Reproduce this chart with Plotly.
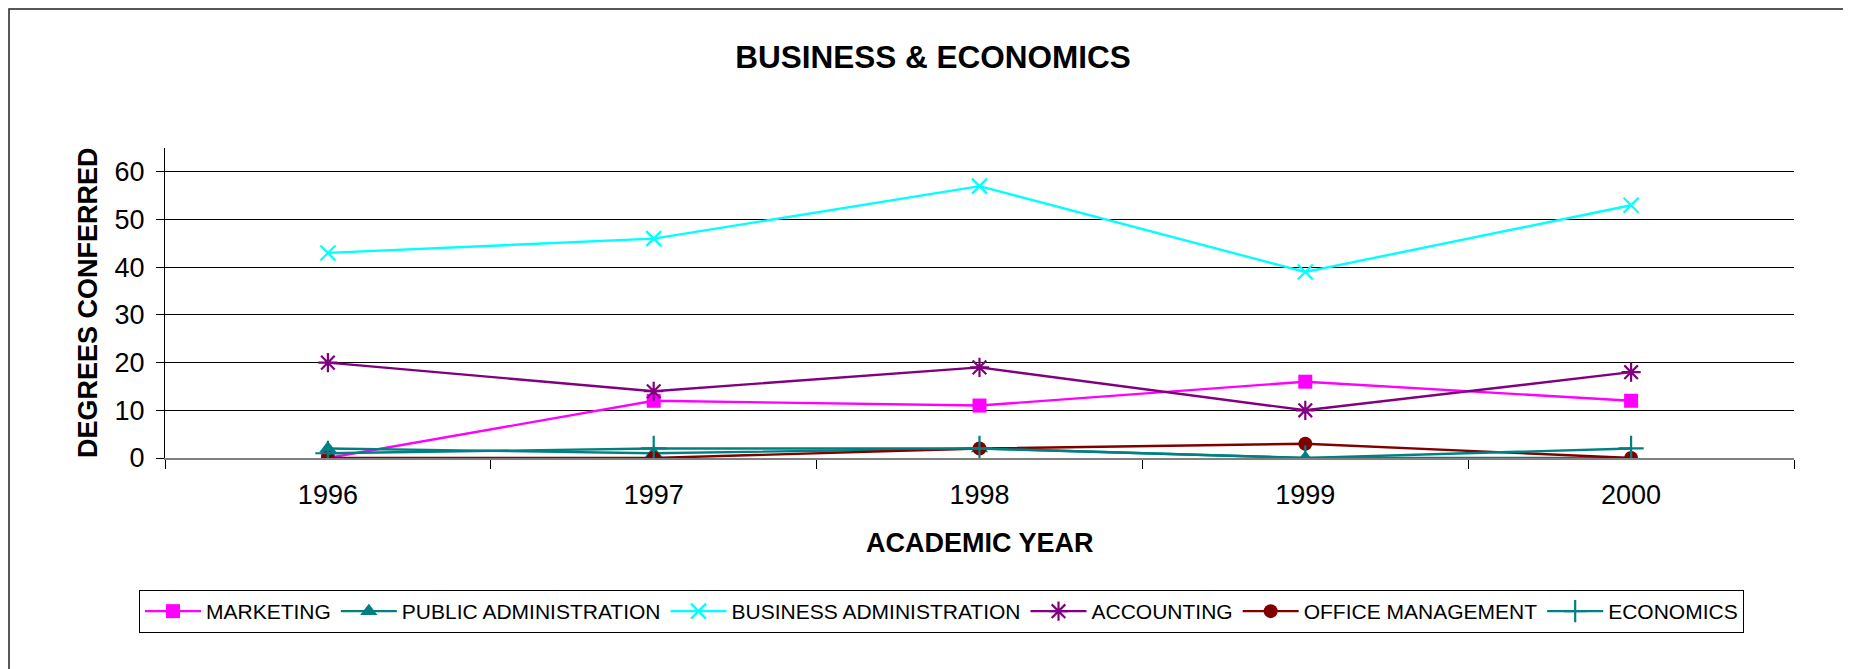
'''
Line chart of degrees conferred in Business & Economics, 1996-2000.
'''

import plotly.graph_objects as go

YEARS = ['1996', '1997', '1998', '1999', '2000']

MARKETING = [0, 12, 11, 16, 12]
PUBLIC_ADMINISTRATION = [2, 1, 2, 0, 0]
BUSINESS_ADMINISTRATION = [43, 46, 57, 39, 53]
ACCOUNTING = [20, 14, 19, 10, 18]
OFFICE_MANAGEMENT = [0, 0, 2, 3, 0]
ECONOMICS = [1, 2, 2, 0, 2]

Y_TICKS = [0, 10, 20, 30, 40, 50, 60]

FONT = 'Arial, Liberation Sans, sans-serif'

# the page body adds an 8px margin, so window pixels are shifted by OFF
OFF = 8
W, H = 1851, 669
# plot area in window pixels
L, R, T, B = 165 - OFF, 1794 - OFF, 148 - OFF, 458 - OFF
PW, PH = R - L, B - T


def px_x(x):
    return (x - OFF - L) / PW


def px_y(y):
    return (B - (y - OFF)) / PH


def main() -> None:
    fig = go.Figure()

    series = [
        ('MARKETING', MARKETING, '#FF00FF', 'square', 14, 0),
        ('PUBLIC ADMINISTRATION', PUBLIC_ADMINISTRATION, '#008080', 'triangle-up', 15, 0),
        ('BUSINESS ADMINISTRATION', BUSINESS_ADMINISTRATION, '#00FFFF', 'x-thin', 15, 2.2),
        ('ACCOUNTING', ACCOUNTING, '#800080', 'asterisk', 16, 2.2),
        ('OFFICE MANAGEMENT', OFFICE_MANAGEMENT, '#800000', 'circle', 14, 0),
        ('ECONOMICS', ECONOMICS, '#008080', 'cross-thin', 18, 2.2),
    ]
    for name, vals, color, symbol, size, mlw in series:
        fig.add_trace(go.Scatter(
            x=YEARS, y=vals, name=name, mode='lines+markers',
            line={'color': color, 'width': 2.4},
            marker={'symbol': symbol, 'size': size, 'color': color,
                    'line': {'color': color, 'width': mlw}},
        ))

    # outer chart frame (right and bottom edges fall outside the window)
    fig.add_shape(type='rect', xref='paper', yref='paper',
                  x0=px_x(9), x1=px_x(1880), y0=px_y(9), y1=px_y(720),
                  line={'color': '#222222', 'width': 1.5}, layer='below')

    fig.add_annotation(text='<b>DEGREES CONFERRED</b>', xref='paper', yref='paper',
                       x=px_x(88), y=0.5, textangle=-90, showarrow=False,
                       xanchor='center', yanchor='middle',
                       font={'size': 27, 'color': 'black', 'family': FONT})
    fig.add_annotation(text='<b>ACADEMIC YEAR</b>', xref='paper', yref='paper',
                       x=0.5, y=px_y(543), showarrow=False,
                       xanchor='center', yanchor='middle',
                       font={'size': 27, 'color': 'black', 'family': FONT})

    fig.update_layout(
        title={'text': '<b>BUSINESS & ECONOMICS</b>', 'x': (933 - OFF) / W,
               'xanchor': 'center', 'y': 1 - (57 - OFF) / H, 'yanchor': 'middle',
               'font': {'size': 31.5, 'color': 'black', 'family': FONT}},
        xaxis={'type': 'category', 'range': [-0.5, 4.5], 'showgrid': False,
               'tickson': 'boundaries', 'ticks': 'outside', 'ticklen': 9,
               'tickcolor': 'black', 'showline': True, 'linecolor': '#808080',
               'linewidth': 2, 'tickfont': {'size': 27, 'color': 'black'},
               'ticklabelstandoff': 12, 'fixedrange': True},
        yaxis={'range': [0, 65], 'tickvals': Y_TICKS, 'showgrid': True,
               'gridcolor': 'black', 'gridwidth': 1, 'zeroline': False,
               'ticks': 'outside', 'ticklen': 8, 'tickcolor': 'black',
               'showline': True, 'linecolor': 'black', 'linewidth': 1,
               'tickfont': {'size': 27, 'color': 'black'}, 'ticklabelstandoff': 6},
        legend={'orientation': 'h', 'x': px_x(139), 'xanchor': 'left',
                'y': px_y(590), 'yanchor': 'top', 'bordercolor': 'black',
                'borderwidth': 1, 'font': {'size': 21, 'color': 'black'},
                'itemwidth': 56, 'tracegroupgap': 0},
        font={'family': FONT},
        showlegend=True,
        plot_bgcolor='white',
        paper_bgcolor='white',
        width=W, height=H,
        margin={'l': L, 'r': W - R, 't': T, 'b': H - B, 'pad': 0},
    )

    fig.write_html('out.html')


if __name__ == '__main__':
    main()
